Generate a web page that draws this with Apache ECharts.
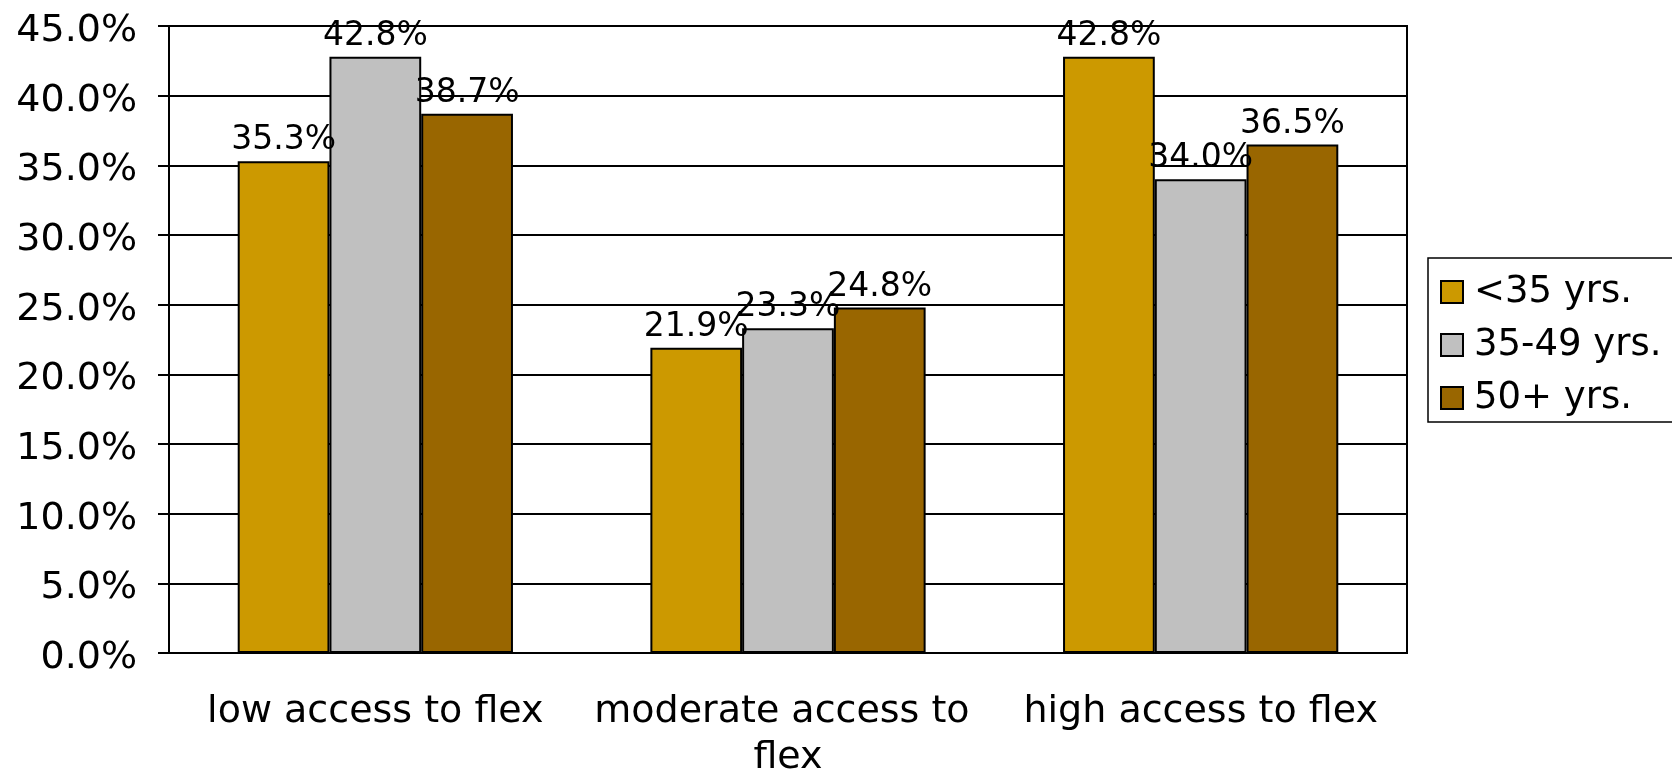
<!DOCTYPE html>
<html>
<head>
<meta charset="utf-8">
<script src="https://cdn.jsdelivr.net/npm/echarts@6/dist/echarts.min.js"></script>
<style>
  html, body { margin: 0; padding: 0; background: #fff; }
  #main { width: 1672px; height: 775px; }
</style>
</head>
<body>
<div id="main"></div>
<script>
// categories and series (percent)
var categories = ['low access to flex', 'moderate access to flex', 'high access to flex']
var under35 = [35.3, 21.9, 42.8]
var from35to49 = [42.8, 23.3, 34.0]
var over50 = [38.7, 24.8, 36.5]
var seriesNames = ['<35 yrs.', '35-49 yrs.', '50+ yrs.']
var seriesColors = ['#CC9900', '#C0C0C0', '#996600']

var font = 'DejaVu Sans'

function pct(v) {
  return Number(v).toFixed(1) + '%'
}

function makeSeries(name, data, color) {
  return {
    name: name,
    type: 'bar',
    data: data,
    barGap: 0,
    barCategoryGap: '33.3%',
    itemStyle: {
      color: color,
      borderColor: '#000',
      borderWidth: 2
    },
    label: {
      show: true,
      position: 'top',
      distance: 4,
      color: '#000',
      fontFamily: font,
      fontSize: 33,
      formatter: function(p) {
        return pct(p.value)
      }
    }
  }
}

var myChart = echarts.init(document.getElementById('main'))
var option = {
  backgroundColor: '#fff',
  animation: false,
  grid: {
    left: 169,
    right: 265,
    top: 26,
    bottom: 122,
    outerBoundsMode: 'none',
    containLabel: false,
    show: true,
    borderColor: '#000',
    borderWidth: 2
  },
  legend: {
    orient: 'vertical',
    left: 1428,
    top: 258,
    padding: [14, 60, 4, 12],
    itemGap: 13,
    itemWidth: 22,
    itemHeight: 22,
    borderColor: '#000',
    borderWidth: 1.5,
    icon: 'rect',
    textStyle: {
      color: '#000',
      fontFamily: font,
      fontSize: 37,
      lineHeight: 40,
      padding: [0, 0, 0, 6]
    },
    data: seriesNames
  },
  xAxis: {
    type: 'category',
    data: categories,
    axisLine: { lineStyle: { color: '#000', width: 2 } },
    axisTick: { length: 13, lineStyle: { color: '#000', width: 2 } },
    axisLabel: {
      color: '#000',
      fontFamily: font,
      fontSize: 38,
      lineHeight: 46,
      margin: 36,
      interval: 0,
      width: 405,
      overflow: 'break'
    }
  },
  yAxis: {
    type: 'value',
    min: 0,
    max: 45,
    interval: 5,
    axisLine: { show: true, lineStyle: { color: '#000', width: 2 } },
    axisTick: { show: true, length: 11, lineStyle: { color: '#000', width: 2 } },
    axisLabel: {
      color: '#000',
      fontFamily: font,
      fontSize: 38,
      margin: 32,
      verticalAlign: 'top',
      lineHeight: 10,
      formatter: function(v) {
        return pct(v)
      }
    },
    splitLine: { lineStyle: { color: '#000', width: 2 } }
  },
  series: [
    makeSeries(seriesNames[0], under35, seriesColors[0]),
    makeSeries(seriesNames[1], from35to49, seriesColors[1]),
    makeSeries(seriesNames[2], over50, seriesColors[2])
  ]
}
myChart.setOption(option)
window.addEventListener('resize', function() {
  myChart.resize()
})
</script>
</body>
</html>
